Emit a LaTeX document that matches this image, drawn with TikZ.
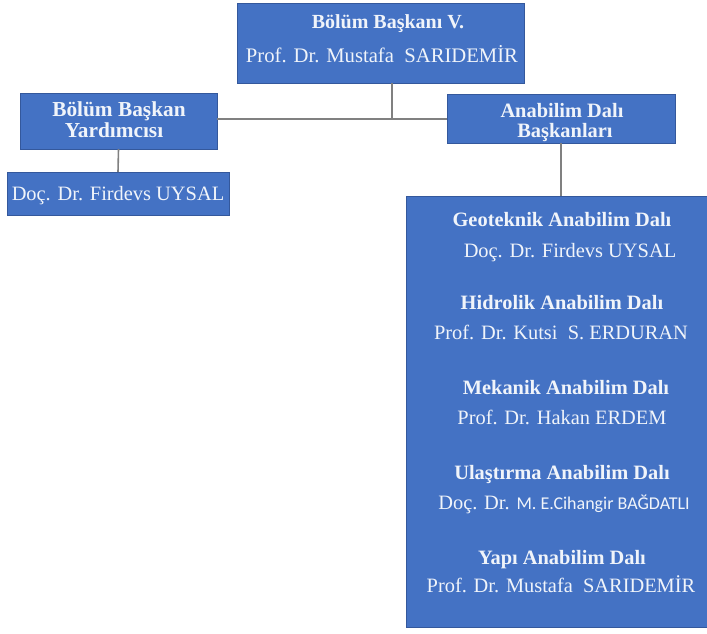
\documentclass[tikz,border=0pt]{standalone}
\usepackage{fontspec}
\setmainfont{Liberation Serif}
\newfontfamily\calib{Carlito}
\definecolor{boxblue}{RGB}{68,114,196}
\definecolor{boxedge}{RGB}{52,88,156}
\definecolor{conncol}{RGB}{128,128,128}
\definecolor{txt}{RGB}{240,244,250}
\begin{document}
\begin{tikzpicture}[x=0.75pt,y=-0.75pt,
  box/.style={draw=boxedge, fill=boxblue, line width=0.6pt, inner sep=0pt, outer sep=0pt},
  lbl/.style={text=txt, inner sep=0pt, anchor=base, font=\fontsize{15.3}{18}\selectfont},
  ttl/.style={lbl, font=\fontsize{15.3}{18}\selectfont\bfseries},
  conn/.style={draw=conncol, line width=1.2pt}]
\useasboundingbox (0,0) rectangle (707,633);
\fill[white] (0,0) rectangle (707,633);
% boxes
\node[box, minimum width=215.25pt, minimum height=60pt] (top) at (380.5,43) {};
\node[box, minimum width=147.75pt, minimum height=42pt] (lb) at (118.5,121) {};
\node[box, minimum width=171pt, minimum height=36.75pt] (rb) at (561,118.5) {};
\node[box, minimum width=166.5pt, minimum height=32.25pt] (doc) at (118,193.5) {};
\node[box, minimum width=225.75pt, minimum height=323.25pt] (big) at (556.5,411.5) {};
% connectors
\coordinate (j) at (392,119);
\draw[conn] (top.south -| j) -- (j);
\draw[conn] (lb.east |- j) -- (rb.west |- j);
\draw[conn] (lb.south) -- (doc.north);
\draw[conn] (rb.south) -- (rb.south |- big.north);
% texts
\node[ttl, font=\fontsize{15}{18}\selectfont\bfseries] (t1) at (388,28) {Bölüm Başkanı V.};
\node[lbl, font=\fontsize{15.5}{18}\selectfont] (t2) at (382,62) {Prof. Dr. Mustafa~ SARIDEMİR};
\node[ttl, font=\fontsize{16}{18}\selectfont\bfseries] (l1) at (119,116) {Bölüm Başkan};
\node[ttl, font=\fontsize{16}{18}\selectfont\bfseries] (l2) at (114,137) {Yardımcısı};
\node[ttl] (r1) at (562,117) {Anabilim Dalı};
\node[ttl] (r2) at (565,137) {Başkanları};
\node[lbl] (d1) at (118,200) {Doç. Dr. Firdevs UYSAL};
\node[ttl] (g1) at (562,226) {Geoteknik Anabilim Dalı};
\node[lbl] (g2) at (570,257) {Doç. Dr. Firdevs UYSAL};
\node[ttl] (h1) at (562,309) {Hidrolik Anabilim Dalı};
\node[lbl] (h2) at (561,339) {Prof. Dr. Kutsi~ S. ERDURAN};
\node[ttl] (m1) at (566,394) {Mekanik Anabilim Dalı};
\node[lbl] (m2) at (562,424) {Prof. Dr. Hakan ERDEM};
\node[ttl] (u1) at (562,479) {Ulaştırma Anabilim Dalı};
\node[lbl] (u2) at (564,509) {Doç. Dr. {\calib\fontsize{13.5}{16}\selectfont M. E.Cihangir BAĞDATLI}};
\node[ttl] (y1) at (562,564) {Yapı Anabilim Dalı};
\node[lbl] (y2) at (561,592) {Prof. Dr. Mustafa~ SARIDEMİR};
\end{tikzpicture}
\end{document}
